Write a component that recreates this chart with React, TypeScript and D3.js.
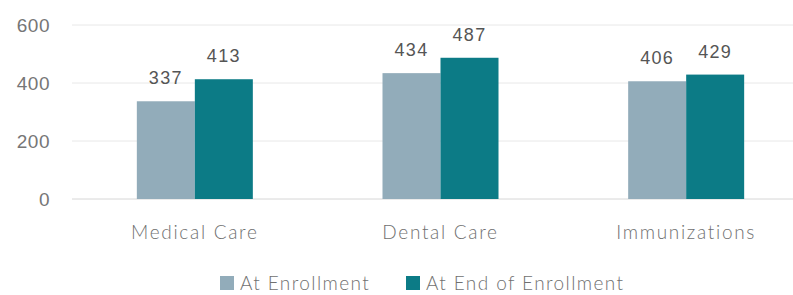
import React, { useEffect, useRef } from 'react';
import * as d3 from 'd3';

const categories = ['Medical Care', 'Dental Care', 'Immunizations'];
const seriesNames = ['At Enrollment', 'At End of Enrollment'];
const atEnrollment = [337, 434, 406];
const atEndOfEnrollment = [413, 487, 429];
const yTicks = [0, 200, 400, 600];

const colors = ['#92acba', '#0c7b86'];

const App: React.FC = () => {
  const svgRef = useRef<SVGSVGElement>(null);

  useEffect(() => {
    document.body.style.margin = '0';
    if (!svgRef.current) return;
    const width = 793;
    const svg = d3.select(svgRef.current);
    svg.selectAll('*').remove();

    const x = d3.scaleBand<string>().domain(categories).range([72, 809]);
    const xInner = d3.scaleBand<number>().domain([0, 1]).range([0, 116]);
    const y = d3.scaleLinear().domain([0, 600]).range([199, 25]);

    // gridlines
    svg.append('g')
      .selectAll('line')
      .data(yTicks)
      .join('line')
      .attr('x1', 72)
      .attr('x2', width)
      .attr('y1', (d) => y(d))
      .attr('y2', (d) => y(d))
      .attr('stroke', (d) => (d === 0 ? '#d6d6d6' : '#e8e8e8'))
      .attr('stroke-width', 1);

    // y tick labels
    svg.append('g')
      .selectAll('text')
      .data(yTicks)
      .join('text')
      .attr('x', 50)
      .attr('y', (d) => y(d))
      .attr('dy', '0.36em')
      .attr('text-anchor', 'end')
      .attr('font-family', 'Liberation Sans, Arial, sans-serif')
      .attr('font-size', 19)
      .attr('letter-spacing', 0.5)
      .attr('fill', '#767676')
      .text((d) => d);

    const series = [atEnrollment, atEndOfEnrollment];

    const groups = svg.append('g')
      .selectAll('g')
      .data(categories)
      .join('g')
      .attr('transform', (c) => `translate(${(x(c) ?? 0) + x.bandwidth() / 2 - 58},0)`);

    groups.selectAll('rect')
      .data((c, i) => series.map((s, si) => ({ si, v: s[i] })))
      .join('rect')
      .attr('x', (d) => xInner(d.si) ?? 0)
      .attr('width', xInner.bandwidth())
      .attr('y', (d) => y(d.v))
      .attr('height', (d) => y(0) - y(d.v))
      .attr('fill', (d) => colors[d.si]);

    groups.selectAll('text.val')
      .data((c, i) => series.map((s, si) => ({ si, v: s[i] })))
      .join('text')
      .attr('class', 'val')
      .attr('x', (d) => (xInner(d.si) ?? 0) + xInner.bandwidth() / 2)
      .attr('y', (d) => y(d.v) - 17)
      .attr('text-anchor', 'middle')
      .attr('font-family', 'Liberation Sans, Arial, sans-serif')
      .attr('font-size', 18)
      .attr('letter-spacing', 1.3)
      .attr('fill', '#555555')
      .text((d) => d.v);

    // category labels
    svg.append('g')
      .selectAll('text')
      .data(categories)
      .join('text')
      .attr('x', (c) => (x(c) ?? 0) + x.bandwidth() / 2)
      .attr('y', 239)
      .attr('text-anchor', 'middle')
      .attr('font-family', 'Lato, sans-serif')
      .attr('font-weight', 300)
      .attr('font-size', 19)
      .attr('letter-spacing', 1.7)
      .attr('fill', '#707070')
      .text((c) => c);

    // legend
    const legendX = [220, 406];
    const legend = svg.append('g')
      .selectAll('g')
      .data(seriesNames)
      .join('g')
      .attr('transform', (d, i) => `translate(${legendX[i]},276)`);
    legend.append('rect')
      .attr('width', 14)
      .attr('height', 14)
      .attr('fill', (d, i) => colors[i]);
    legend.append('text')
      .attr('x', 20)
      .attr('y', 14)
      .attr('font-family', 'Lato, sans-serif')
      .attr('font-weight', 300)
      .attr('font-size', 19)
      .attr('letter-spacing', 1.4)
      .attr('fill', '#707070')
      .text((d) => d);
  }, []);

  return <svg ref={svgRef} width={793} height={295} style={{ display: 'block', background: '#fff' }} />;
};

export default App;
